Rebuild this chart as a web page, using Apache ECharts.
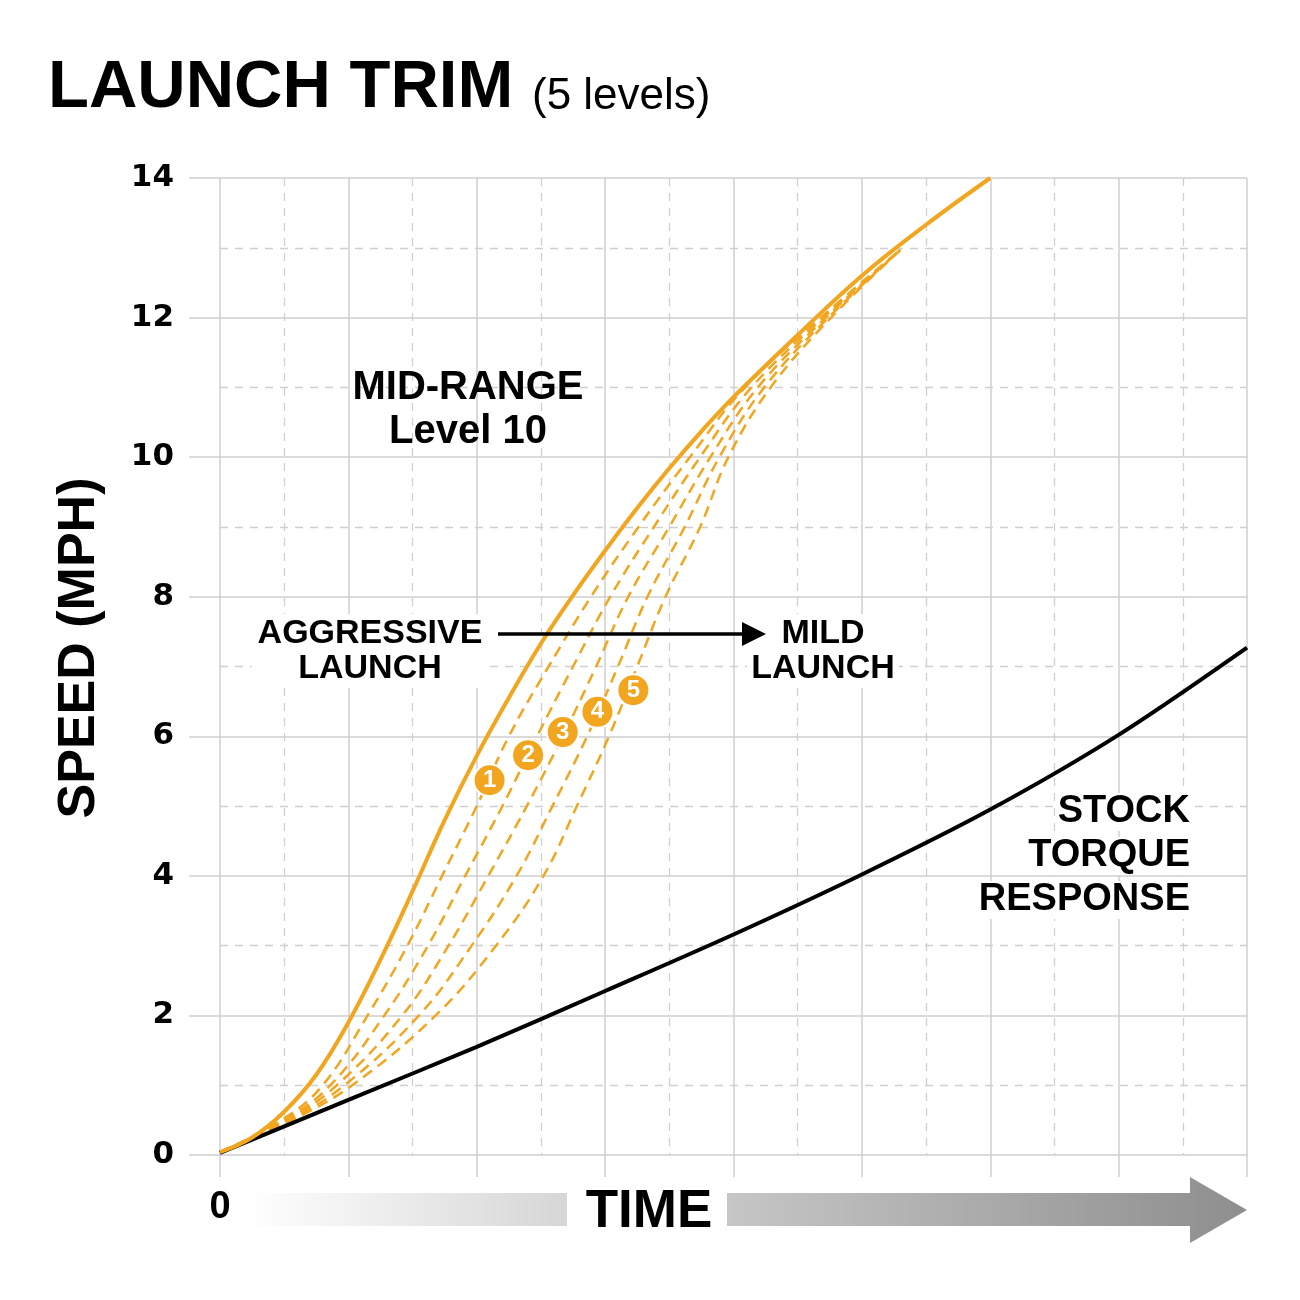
<!DOCTYPE html>
<html>
<head>
<meta charset="utf-8">
<title>Launch Trim</title>
<script src="https://cdn.jsdelivr.net/npm/echarts@6/dist/echarts.min.js"></script>
<style>
  html, body { margin: 0; padding: 0; background: #fff; }
  #main { width: 1300px; height: 1300px; }
</style>
</head>
<body>
<div id="main"></div>
<script>
// speed (mph) vs time
const midRange = [[0,0.04],[0.25,0.25],[0.5,0.62],[0.75,1.15],[1,1.9],[1.25,2.8],[1.5,3.78],[1.75,4.8],[2,5.72],[2.25,6.55],[2.5,7.33],[2.75,8.02],[3,8.66],[3.25,9.27],[3.5,9.84],[3.75,10.37],[4,10.86],[4.5,11.75],[5,12.6],[5.5,13.33],[6,14]];
const stockResponse = [[0,0.03],[1,0.79],[2,1.55],[3,2.35],[4,3.16],[5,4.02],[6,4.95],[7,6.02],[8,7.27]];

const level1 = [[0,0.04],[0.48,0.5],[0.80,1],[1.15,2],[1.46,3],[1.73,4],[2.0,5],[2.25,6],[2.56,7],[2.89,8],[3.26,9],[3.66,10],[4.09,11],[4.68,12],[5.3,12.97]];
const level2 = [[0,0.04],[0.5,0.5],[0.86,1],[1.28,2],[1.62,3],[1.91,4],[2.2,5],[2.47,6],[2.75,7],[3.04,8],[3.38,9],[3.74,10],[4.14,11],[4.70,12],[5.3,12.97]];
const level3 = [[0,0.04],[0.52,0.5],[0.91,1],[1.42,2],[1.78,3],[2.09,4],[2.39,5],[2.67,6],[2.93,7],[3.18,8],[3.5,9],[3.82,10],[4.19,11],[4.72,12],[5.3,12.97]];
const level4 = [[0,0.04],[0.54,0.5],[0.97,1],[1.55,2],[1.96,3],[2.31,4],[2.59,5],[2.86,6],[3.1,7],[3.33,8],[3.62,9],[3.89,10],[4.24,11],[4.74,12],[5.3,12.97]];
const level5 = [[0,0.04],[0.56,0.5],[1.03,1],[1.68,2],[2.15,3],[2.52,4],[2.78,5],[3.03,6],[3.25,7],[3.47,8],[3.74,9],[3.96,10],[4.29,11],[4.76,12],[5.3,12.97]];
const levels = [level1, level2, level3, level4, level5];

const markerPoints = [[2.10,5.37],[2.40,5.73],[2.67,6.06],[2.94,6.35],[3.22,6.66]];
const markerLabels = ['1','2','3','4','5'];

const yTicks = [0, 2, 4, 6, 8, 10, 12, 14];

const ORANGE = '#f2a51e';
const GRID = '#cfcfcf';
const LABEL_FONT = '"Liberation Sans", Arial, sans-serif';

const chart = echarts.init(document.getElementById('main'));

const levelSeries = levels.map((d, i) => ({
  name: 'Level ' + (i + 1),
  type: 'line',
  data: d,
  smooth: 0.4,
  symbol: 'none',
  z: 3,
  lineStyle: { color: ORANGE, width: 2.5, type: [11, 7] }
}));

chart.setOption({
  animation: false,
  backgroundColor: '#fff',
  grid: { left: 220, right: 53, top: 178, bottom: 145 },
  xAxis: {
    type: 'value',
    min: 0,
    max: 8,
    interval: 1,
    axisLine: { show: false },
    axisTick: { show: true, length: 22, lineStyle: { color: GRID, width: 1.5 } },
    minorTick: { show: false, splitNumber: 2 },
    splitLine: { show: true, lineStyle: { color: GRID, width: 1.5 } },
    minorSplitLine: { show: true, lineStyle: { color: GRID, width: 1.3, type: [8, 7] } },
    axisLabel: {
      margin: 34,
      fontFamily: LABEL_FONT,
      fontWeight: 'bold',
      fontSize: 38,
      color: '#000',
      formatter: v => (v === 0 ? '0' : '')
    }
  },
  yAxis: {
    type: 'value',
    min: 0,
    max: 14,
    interval: 2,
    axisLine: { show: false },
    axisTick: { show: true, length: 31, lineStyle: { color: GRID, width: 1.5 } },
    minorTick: { show: false, splitNumber: 2 },
    splitLine: { show: true, lineStyle: { color: GRID, width: 1.5 } },
    minorSplitLine: { show: true, lineStyle: { color: GRID, width: 1.3, type: [8, 7] } },
    axisLabel: {
      margin: 46,
      fontFamily: '"DejaVu Sans", sans-serif',
      fontWeight: 'bold',
      fontSize: 31,
      color: '#000',
      formatter: v => (yTicks.includes(v) ? String(v) : '')
    }
  },
  series: [
    ...levelSeries,
    {
      name: 'Stock Torque Response',
      type: 'line',
      data: stockResponse,
      smooth: 0.3,
      symbol: 'none',
      z: 4,
      lineStyle: { color: '#000', width: 4 }
    },
    {
      name: 'Mid-Range Level 10',
      type: 'line',
      data: midRange,
      smooth: 0.4,
      symbol: 'none',
      z: 5,
      lineStyle: { color: ORANGE, width: 4 }
    },
    {
      name: 'Trim levels',
      type: 'scatter',
      z: 6,
      data: markerPoints.map((p, i) => ({ value: p, name: markerLabels[i] })),
      symbolSize: 32,
      itemStyle: { color: ORANGE, borderColor: '#fff', borderWidth: 2, opacity: 1 },
      label: {
        show: true,
        position: 'inside',
        formatter: '{b}',
        color: '#fff',
        fontFamily: LABEL_FONT,
        fontWeight: 'bold',
        fontSize: 24
      }
    }
  ],
  graphic: [
    {
      type: 'text', x: 48, y: 89, z: 10,
      style: { text: 'LAUNCH TRIM', font: 'bold 67px ' + LABEL_FONT, fill: '#000', verticalAlign: 'middle' }
    },
    {
      type: 'text', x: 532, y: 97, z: 10,
      style: { text: '(5 levels)', font: '44px ' + LABEL_FONT, fill: '#000', verticalAlign: 'middle' }
    },
    {
      type: 'text', x: 80, y: 648, z: 10, rotation: Math.PI / 2,
      style: { text: 'SPEED (MPH)', font: 'bold 52px ' + LABEL_FONT, fill: '#000', align: 'center', verticalAlign: 'middle' }
    },
    {
      type: 'text', x: 468, y: 410, z: 10,
      style: {
        text: 'MID-RANGE\nLevel 10', font: 'bold 40px ' + LABEL_FONT, lineHeight: 44,
        fill: '#000', align: 'center', verticalAlign: 'middle'
      }
    },
    {
      type: 'text', x: 370, y: 651, z: 10,
      style: {
        text: 'AGGRESSIVE\nLAUNCH', font: 'bold 34px ' + LABEL_FONT, lineHeight: 35,
        fill: '#000', align: 'center', verticalAlign: 'middle',
        backgroundColor: '#fff', padding: [2, 6]
      }
    },
    {
      type: 'text', x: 823, y: 651, z: 10,
      style: {
        text: 'MILD\nLAUNCH', font: 'bold 34px ' + LABEL_FONT, lineHeight: 35,
        fill: '#000', align: 'center', verticalAlign: 'middle',
        backgroundColor: '#fff', padding: [2, 4]
      }
    },
    // direction arrow between the two launch labels
    {
      type: 'line', z: 12,
      shape: { x1: 498, y1: 634, x2: 748, y2: 634 },
      style: { stroke: '#000', lineWidth: 3.5 }
    },
    {
      type: 'polygon', z: 12,
      shape: { points: [[742, 622], [766, 634], [742, 646]] },
      style: { fill: '#000' }
    },
    {
      type: 'text', x: 1192, y: 856, z: 10,
      style: {
        text: '{t|STOCK}\n{t|TORQUE}\n{t|RESPONSE}',
        align: 'right', verticalAlign: 'middle',
        rich: {
          t: {
            font: 'bold 38px ' + LABEL_FONT, lineHeight: 44, fill: '#000',
            backgroundColor: '#fff', padding: [0, 2]
          }
        }
      }
    },
    {
      type: 'rect', z: 1,
      shape: { x: 245, y: 1193, width: 322, height: 33 },
      style: {
        fill: new echarts.graphic.LinearGradient(0, 0, 1, 0, [
          { offset: 0, color: '#ffffff' },
          { offset: 1, color: '#d6d6d6' }
        ])
      }
    },
    {
      type: 'polygon', z: 1,
      shape: { points: [[727, 1193], [1190, 1193], [1190, 1177], [1247, 1210], [1190, 1243], [1190, 1226], [727, 1226]] },
      style: {
        fill: new echarts.graphic.LinearGradient(0, 0, 1, 0, [
          { offset: 0, color: '#c6c6c6' },
          { offset: 1, color: '#8e8e8e' }
        ])
      }
    },
    {
      type: 'text', x: 649, y: 1212, z: 10,
      style: { text: 'TIME', font: 'bold 53px ' + LABEL_FONT, fill: '#000', align: 'center', verticalAlign: 'middle' }
    }
  ]
});
</script>
</body>
</html>
